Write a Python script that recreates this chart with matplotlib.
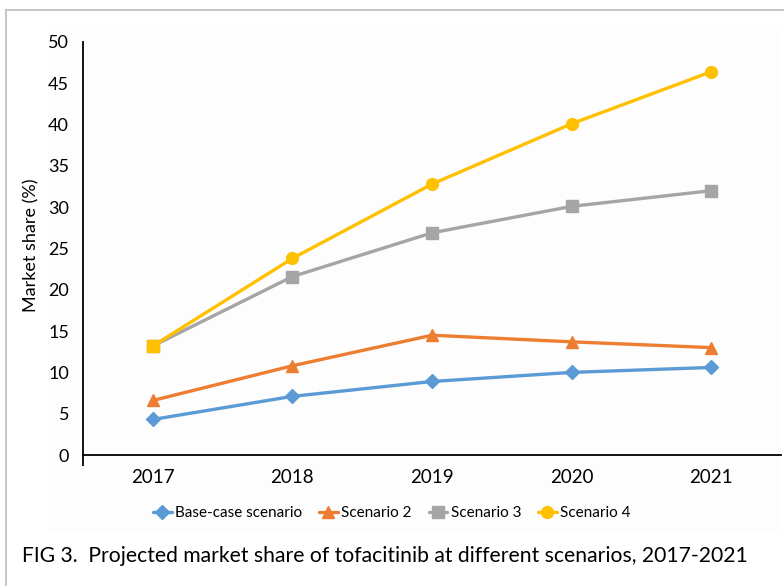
import matplotlib
matplotlib.use("Agg")
import matplotlib.pyplot as plt
from matplotlib.lines import Line2D
from matplotlib.patches import Rectangle

years = ["2017", "2018", "2019", "2020", "2021"]
base_case = [4.3, 7.1, 8.9, 10.0, 10.6]
scenario2 = [6.6, 10.8, 14.5, 13.7, 13.0]
scenario3 = [13.2, 21.6, 26.9, 30.1, 32.0]
scenario4 = [13.2, 23.8, 32.8, 40.1, 46.4]
series_names = ["Base-case scenario", "Scenario 2", "Scenario 3", "Scenario 4"]
y_ticks = [0, 5, 10, 15, 20, 25, 30, 35, 40, 45, 50]
caption = "FIG 3.  Projected market share of tofacitinib at different scenarios, 2017-2021"
y_label = "Market share (%)"

plt.rcParams['font.family'] = ['Lato', 'DejaVu Sans']

W, H = 784, 586
fig = plt.figure(figsize=(W / 100, H / 100), dpi=100)
fig.patch.set_facecolor("white")

# faint chart area background
fig.add_artist(Rectangle((48 / W, 1 - 533 / H), (781 - 48) / W, (533 - 30) / H,
                         transform=fig.transFigure, facecolor="#FDFDFD",
                         edgecolor="none", zorder=0))
# outer frame lines (top and left)
fig.add_artist(Line2D([6 / W, 1], [1 - 10 / H, 1 - 10 / H], transform=fig.transFigure,
                      color="#C8C8C8", lw=1.5))
fig.add_artist(Line2D([6 / W, 6 / W], [0, 1 - 10 / H], transform=fig.transFigure,
                      color="#C8C8C8", lw=1.5))

ax = fig.add_axes([83 / W, 1 - 455 / H, (781 - 83) / W, (455 - 42) / H])
ax.set_facecolor("none")

x = list(range(len(years)))
styles = [
    (base_case, "#5B9BD5", "D", 7),
    (scenario2, "#ED7D31", "^", 9),
    (scenario3, "#A5A5A5", "s", 8),
    (scenario4, "#FFC000", "o", 8.5),
]
handles = []
for i, ((vals, col, mk, ms), name) in enumerate(zip(styles, series_names)):
    every = list(range(1, len(vals))) if i == 3 else None
    h, = ax.plot(x, vals, color=col, lw=2.4, marker=mk, markersize=ms,
                 markeredgecolor=col, markerfacecolor=col, label=name,
                 solid_capstyle="round", markevery=every)
    handles.append(h)
# first point of scenario 4 drawn as a square on top of scenario 3 (as in the reference)
ax.plot(x[:1], scenario4[:1], linestyle="none", marker="s", markersize=8.5,
        color="#FFC000", zorder=5)

ax.set_xlim(-0.5, len(years) - 0.5)
ax.set_ylim(0, 50)
ax.set_yticks(y_ticks)
ax.set_yticklabels([str(v) for v in y_ticks], fontsize=13)
ax.set_xticks(x)
ax.set_xticklabels(years, fontsize=13.5)
ax.set_xticks([-0.5], minor=True)
ax.tick_params(axis="x", which="major", length=0, pad=10)
ax.tick_params(axis="x", which="minor", length=8, width=1.3, direction="out", color="black")
ax.tick_params(axis="y", length=0, pad=10)

for s in ["top", "right"]:
    ax.spines[s].set_visible(False)
for s in ["left", "bottom"]:
    ax.spines[s].set_color("black")
    ax.spines[s].set_linewidth(1.3)

fig.text(31 / W, 1 - 245 / H, y_label, rotation=90, ha="center", va="center", fontsize=13)

leg = fig.legend(handles=handles, labels=series_names, loc="center",
                 bbox_to_anchor=(392 / W, 1 - 513 / H), ncol=4, frameon=False,
                 fontsize=11, handlelength=1.2, handletextpad=0.25, columnspacing=1.1)
for lh in leg.legend_handles:
    lh.set_linewidth(2.4)

fig.text(22 / W, 1 - 556 / H, caption, ha="left", va="center", fontsize=15.2)

fig.savefig("out.png", dpi=100)
